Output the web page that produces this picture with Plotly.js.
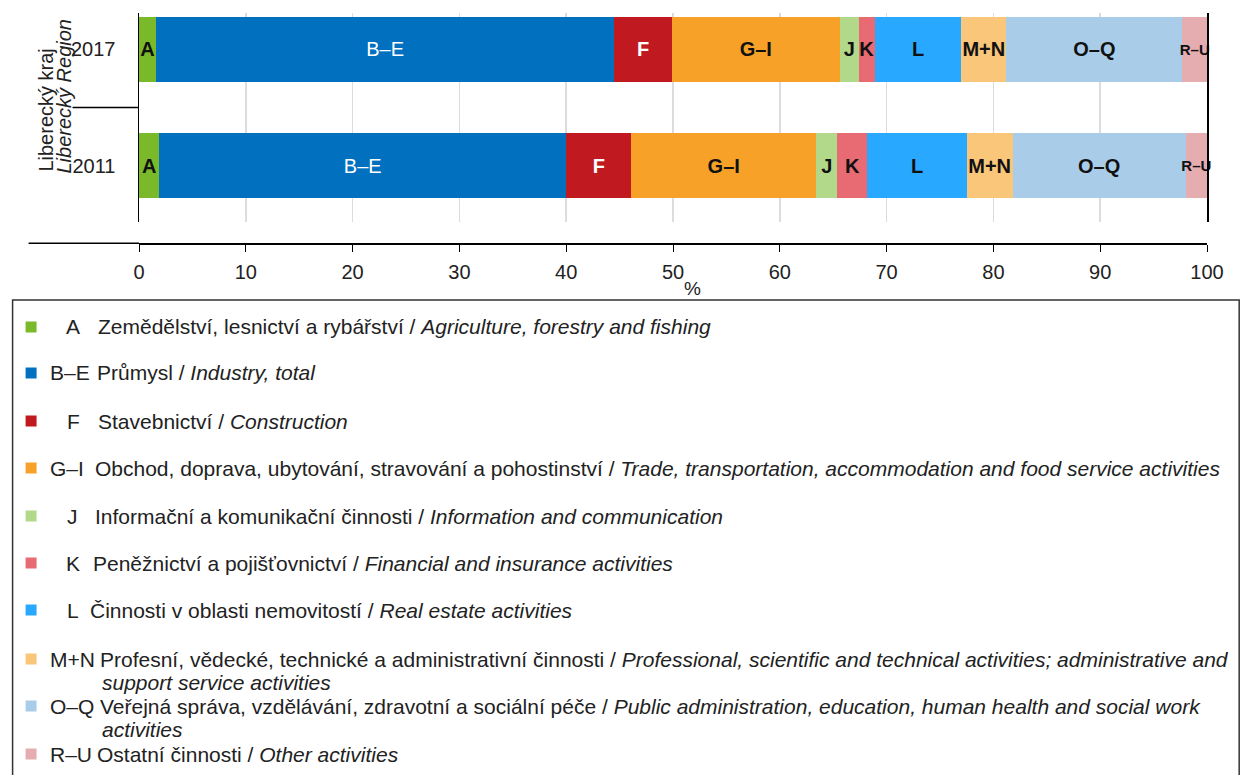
<!DOCTYPE html>
<html>
<head>
<meta charset="utf-8">
<script src="https://cdn.plot.ly/plotly-3.0.1.min.js"></script>
<style>html,body{margin:0;padding:0;background:#fff;}#chart{width:1241px;height:775px;}</style>
</head>
<body>
<div id="chart"></div>
<script>
// ---- data ----
const categories = ['2017', '2011'];
const codes = ['A', 'B–E', 'F', 'G–I', 'J', 'K', 'L', 'M+N', 'O–Q', 'R–U'];
const values2017 = [1.6, 42.9, 5.4, 15.7, 1.8, 1.5, 8.1, 4.2, 16.5, 2.3];
const values2011 = [1.9, 38.1, 6.1, 17.3, 2.0, 2.8, 9.3, 4.3, 16.2, 2.0];
const namesCz = [
  'Zemědělství, lesnictví a rybářství',
  'Průmysl',
  'Stavebnictví',
  'Obchod, doprava, ubytování, stravování a pohostinství',
  'Informační a komunikační činnosti',
  'Peněžnictví a pojišťovnictví',
  'Činnosti v oblasti nemovitostí',
  'Profesní, vědecké, technické a administrativní činnosti',
  'Veřejná správa, vzdělávání, zdravotní a sociální péče',
  'Ostatní činnosti'
];
const namesEn = [
  'Agriculture, forestry and fishing',
  'Industry, total',
  'Construction',
  'Trade, transportation, accommodation and food service activities',
  'Information and communication',
  'Financial and insurance activities',
  'Real estate activities',
  'Professional, scientific and technical activities; administrative and\nsupport service activities',
  'Public administration, education, human health and social work\nactivities',
  'Other activities'
];
const xTickVals = [0, 10, 20, 30, 40, 50, 60, 70, 80, 90, 100];
const yTitleCz = 'Liberecký kraj';
const yTitleEn = 'Liberecký Region';
const xTitle = '%';

// ---- styles ----
const colors = ['#7ab929', '#0070bf', '#c0191f', '#f7a128', '#b2d98a', '#e86a72', '#29a8ff', '#f9c67a', '#a9cde8', '#e6adb1'];
const textColors = ['#111', '#fff', '#fff', '#111', '#111', '#111', '#111', '#111', '#111', '#111'];
const textWeights = ['bold', 'normal', 'bold', 'bold', 'bold', 'bold', 'bold', 'bold', 'bold', 'bold'];
const textSizes = [20, 20, 20, 20, 20, 20, 20, 20, 20, 15];
const FONT = 'Liberation Sans, Arial, sans-serif';

const W = 1241, H = 775;
const L = 138.5, R = 1207.3;
const PW = R - L;
const px = x => (x - L) / PW;
const py = y => 1 - y / H;

const traces = codes.map((c, i) => ({
  type: 'bar',
  orientation: 'h',
  y: categories,
  x: [values2017[i], values2011[i]],
  name: c,
  marker: { color: colors[i], line: { width: 0 } },
  text: [c, c],
  textposition: 'inside',
  insidetextanchor: 'middle',
  textangle: 0,
  constraintext: 'none',
  cliponaxis: false,
  textfont: { family: FONT, size: textSizes[i], color: textColors[i], weight: textWeights[i] },
  hoverinfo: 'none',
  showlegend: false
}));

// legend layout constants (pixels)
const rowY = [327, 373, 421, 468, 516, 563, 610, 659, 706, 754];
const codeX = [63, 47, 64, 47, 64, 63, 64, 47, 47, 47];
const descX = [95, 94, 95, 92, 92, 90, 87, 97, 97, 94];
const contX = 99;
const lineGap = 23;
const LEG_FS = 21;

const shapes = [
  { type: 'line', xref: 'paper', yref: 'paper', x0: px(28), x1: px(L), y0: py(243.3), y1: py(243.3), line: { color: '#000', width: 1.5 } },
  { type: 'line', xref: 'paper', yref: 'y', x0: px(72), x1: 0, y0: 0.5, y1: 0.5, line: { color: '#000', width: 1.5 } },
  { type: 'rect', xref: 'paper', yref: 'paper', x0: px(12), x1: px(1239.5), y0: py(300), y1: py(800), line: { color: '#333', width: 1.5 }, fillcolor: 'rgba(0,0,0,0)' }
];
const annotations = [
  { xref: 'paper', yref: 'paper', x: px(45), y: py(110), text: yTitleCz, textangle: -90, showarrow: false, xanchor: 'center', yanchor: 'middle', font: { family: FONT, size: 20, color: '#222' } },
  { xref: 'paper', yref: 'paper', x: px(63), y: py(96), text: '<i>' + yTitleEn + '</i>', textangle: -90, showarrow: false, xanchor: 'center', yanchor: 'middle', font: { family: FONT, size: 20, color: '#222' } },
  { xref: 'paper', yref: 'paper', x: px(692), y: py(288), text: xTitle, showarrow: false, xanchor: 'center', yanchor: 'middle', font: { family: FONT, size: 19, color: '#222' } }
];

codes.forEach((c, i) => {
  const y = rowY[i];
  shapes.push({ type: 'rect', xref: 'paper', yref: 'paper', x0: px(25), x1: px(36), y0: py(y + 5.5), y1: py(y - 5.5), fillcolor: colors[i], line: { width: 0 } });
  annotations.push({ xref: 'paper', yref: 'paper', x: px(codeX[i]), y: py(y), text: c, showarrow: false, xanchor: 'left', yanchor: 'middle', font: { family: FONT, size: LEG_FS, color: '#222' } });
  const enLines = namesEn[i].split('\n');
  annotations.push({ xref: 'paper', yref: 'paper', x: px(descX[i]), y: py(y), text: namesCz[i] + ' / <i>' + enLines[0] + '</i>', showarrow: false, xanchor: 'left', yanchor: 'middle', font: { family: FONT, size: LEG_FS, color: '#222' } });
  for (let k = 1; k < enLines.length; k++) {
    annotations.push({ xref: 'paper', yref: 'paper', x: px(contX), y: py(y + k * lineGap), text: '<i>' + enLines[k] + '</i>', showarrow: false, xanchor: 'left', yanchor: 'middle', font: { family: FONT, size: LEG_FS, color: '#222' } });
  }
});

const layout = {
  width: W, height: H,
  margin: { l: L, r: W - R, t: 0, b: 0, pad: 0 },
  paper_bgcolor: '#fff', plot_bgcolor: '#fff',
  barmode: 'stack',
  bargap: 0.444,
  showlegend: false,
  font: { family: FONT, size: 20, color: '#222' },
  xaxis: {
    range: [0, 100],
    tickvals: xTickVals,
    ticktext: xTickVals.map(String),
    showgrid: true, gridcolor: '#dcdcdc', gridwidth: 1.5,
    zeroline: false,
    showline: true, linecolor: '#000', linewidth: 1.5,
    ticks: 'outside', ticklen: 7, tickcolor: '#000', tickwidth: 1,
    ticklabelstandoff: 3,
    tickfont: { family: FONT, size: 20, color: '#222' },
    anchor: 'free', position: py(243.3),
    fixedrange: true
  },
  yaxis: {
    domain: [py(222), py(13)],
    type: 'category',
    categoryarray: ['2011', '2017'],
    categoryorder: 'array',
    range: [-0.479, 1.308],
    showline: true, mirror: true, linecolor: '#000', linewidth: 1.5,
    showgrid: false, zeroline: false,
    ticks: '', ticklabelstandoff: 18,
    tickfont: { family: FONT, size: 20, color: '#222' },
    fixedrange: true
  },
  shapes: shapes,
  annotations: annotations
};

Plotly.newPlot('chart', traces, layout, { displayModeBar: false, staticPlot: true });
</script>
</body>
</html>
